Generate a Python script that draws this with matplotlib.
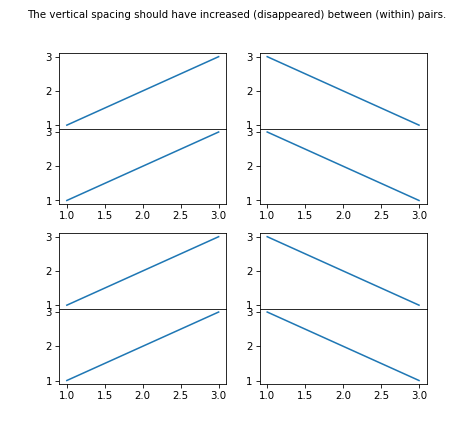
import matplotlib
matplotlib.use("Agg")
import matplotlib.pyplot as plt

x = [1, 2, 3]
y_up = [1, 2, 3]
y_down = [3, 2, 1]
title = "The vertical spacing should have increased (disappeared) between (within) pairs."

fig = plt.figure(figsize=(6.4, 6.05), dpi=74.0625)
gs = fig.add_gridspec(2, 2, left=0.125, right=0.9, top=0.881, bottom=0.143,
                      wspace=0.2, hspace=0.195)

# each outer cell holds a pair of axes with no gap between them
for col, yvals in enumerate([y_up, y_down]):
    for row in range(2):
        sub = gs[row, col].subgridspec(2, 1, hspace=0)
        ax_top = fig.add_subplot(sub[0])
        ax_bot = fig.add_subplot(sub[1], sharex=ax_top)
        ax_top.plot(x, yvals)
        ax_bot.plot(x, yvals)
        ax_top.tick_params(labelbottom=False)

fig.suptitle(title, fontsize=10, y=0.978)
fig.savefig("out.png", dpi=74.0625)
